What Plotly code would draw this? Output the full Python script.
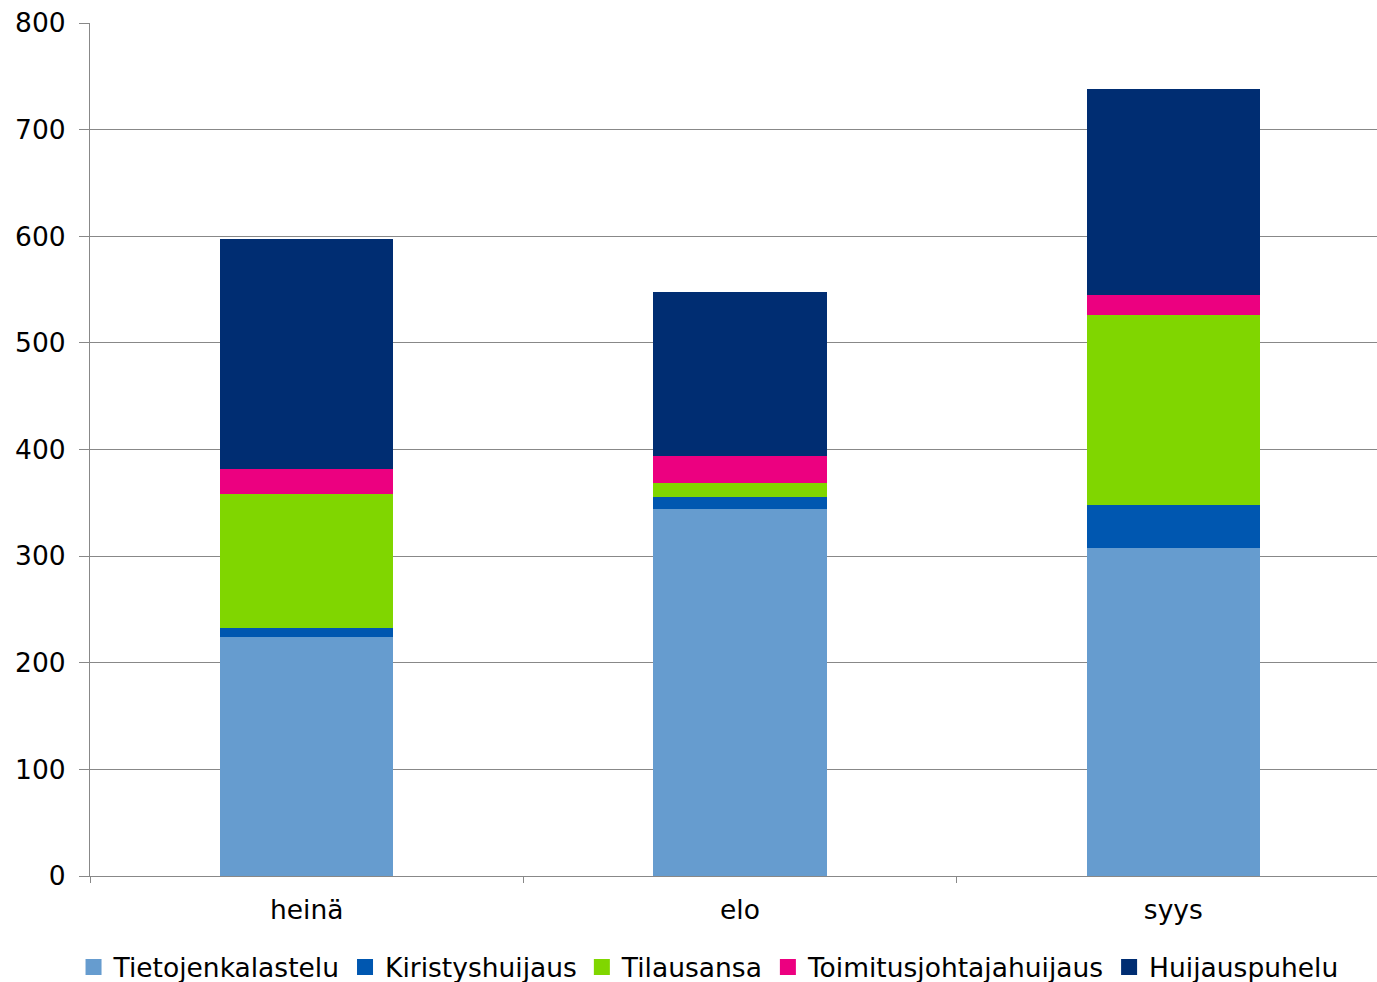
import plotly.graph_objects as go

months = ["heinä", "elo", "syys"]
tietojenkalastelu = [224, 344, 308]
kiristyshuijaus = [9, 11, 40]
tilausansa = [125, 14, 178]
toimitusjohtajahuijaus = [24, 25, 19]
huijauspuhelu = [215, 154, 193]

series = [
    ("Tietojenkalastelu", tietojenkalastelu, "#669CCF"),
    ("Kiristyshuijaus", kiristyshuijaus, "#0057B0"),
    ("Tilausansa", tilausansa, "#80D600"),
    ("Toimitusjohtajahuijaus", toimitusjohtajahuijaus, "#EC0080"),
    ("Huijauspuhelu", huijauspuhelu, "#002D72"),
]

fig = go.Figure()
for name, vals, col in series:
    fig.add_trace(go.Bar(x=months, y=vals, name=name, legendgroup=name, showlegend=False,
                         marker=dict(color=col, line=dict(width=0))))
for name, vals, col in series:
    fig.add_trace(go.Scatter(x=[None], y=[None], mode="markers", name=name, legendgroup=name,
                             marker=dict(symbol="square", size=16, color=col, line=dict(width=0))))

font = "DejaVu Sans, Verdana, sans-serif"
fs = 26.5
fig.update_layout(
    barmode="stack",
    bargap=0.6,
    width=1377, height=982,
    margin=dict(l=90, r=0, t=23, b=106, autoexpand=False),
    paper_bgcolor="white", plot_bgcolor="white",
    font=dict(family=font, size=fs, color="#000000"),
    showlegend=True,
    legend=dict(orientation="h", x=0.4806, xanchor="center", y=-0.079, yanchor="top",
                font=dict(size=fs), itemwidth=30, traceorder="normal"),
    xaxis=dict(tickson="boundaries", ticks="outside", ticklen=6, tickcolor="#888888",
               showline=True, linecolor="#888888", linewidth=1, showgrid=False,
               range=[-0.5, 2.47], ticklabelstandoff=10, automargin=False,
               tickfont=dict(size=fs)),
    yaxis=dict(range=[0, 800], dtick=100, ticks="outside", ticklen=10, tickcolor="#888888",
               showline=True, linecolor="#888888", linewidth=1,
               showgrid=True, gridcolor="#888888", gridwidth=1, zeroline=False,
               ticklabelstandoff=8, automargin=False,
               tickfont=dict(size=fs)),
)
fig.write_html("out.html")
